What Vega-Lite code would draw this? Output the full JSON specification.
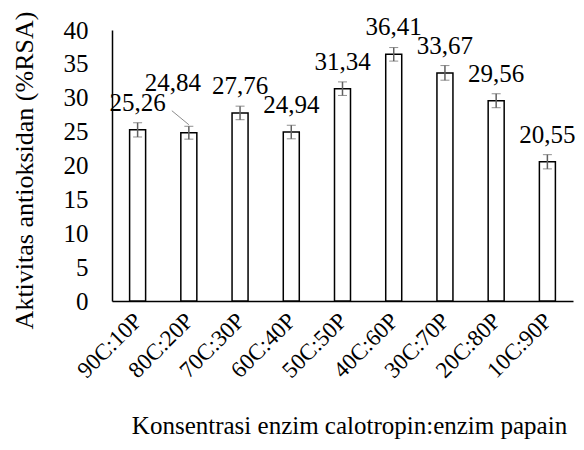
{
  "$schema": "https://vega.github.io/schema/vega-lite/v6.json",
  "width": 461,
  "height": 271,
  "autosize": {"type": "none"},
  "padding": {"left": 112, "top": 30, "right": 11, "bottom": 149},
  "background": "white",
  "config": {
    "font": "Liberation Serif",
    "view": {"stroke": null},
    "locale": {"number": {"decimal": ",", "thousands": ".", "grouping": [3], "currency": ["", ""]}},
    "axis": {"labelColor": "black", "titleColor": "black", "domainColor": "black", "domainWidth": 1.5, "ticks": false, "grid": false, "titleFontWeight": "normal", "labelFont": "Liberation Serif", "titleFont": "Liberation Serif"}
  },
  "data": {
    "values": [
      {"cat": "90C:10P", "value": 25.26, "err": 1.05},
      {"cat": "80C:20P", "value": 24.84, "err": 0.95},
      {"cat": "70C:30P", "value": 27.76, "err": 1.0},
      {"cat": "60C:40P", "value": 24.94, "err": 1.0},
      {"cat": "50C:50P", "value": 31.34, "err": 1.0},
      {"cat": "40C:60P", "value": 36.41, "err": 1.0},
      {"cat": "30C:70P", "value": 33.67, "err": 1.08},
      {"cat": "20C:80P", "value": 29.56, "err": 1.03},
      {"cat": "10C:90P", "value": 20.55, "err": 1.05}
    ]
  },
  "encoding": {
    "x": {
      "field": "cat", "type": "nominal", "sort": null,
      "scale": {"paddingInner": 0.6875, "paddingOuter": 0.34375},
      "axis": {
        "title": "Konsentrasi enzim calotropin:enzim papain",
        "labelAngle": -45, "labelAlign": "right", "labelBaseline": "top",
        "labelFontSize": 23, "labelPadding": 8, "labelOffset": -7,
        "titleFontSize": 25, "titleX": 237, "titleY": 132, "titleAlign": "center", "titleBaseline": "alphabetic"
      }
    },
    "y": {
      "field": "value", "type": "quantitative",
      "scale": {"domain": [0, 40], "nice": false},
      "title": "Aktivitas antioksidan (%RSA)",
      "axis": {
        "values": [0, 5, 10, 15, 20, 25, 30, 35, 40],
        "format": "d",
        "labelOverlap": false,
        "labelFontSize": 25, "labelPadding": 24,
        "titleFontSize": 26, "titleX": -80, "titleY": 140, "titleAlign": "center", "titleBaseline": "alphabetic", "titleAngle": -90
      }
    }
  },
  "layer": [
    {
      "mark": {"type": "bar", "fill": "white", "stroke": "black", "strokeWidth": 1.5}
    },
    {
      "mark": {"type": "errorbar", "ticks": {"size": 9, "color": "#606060", "strokeWidth": 1.5}, "rule": {"color": "#606060", "strokeWidth": 1.5}},
      "encoding": {
        "yError": {"field": "err"}
      }
    },
    {
      "transform": [{"filter": "datum.cat !== '80C:20P'"}],
      "mark": {"type": "text", "font": "Liberation Serif", "fontSize": 25, "baseline": "alphabetic", "dy": -19, "color": "black"},
      "encoding": {
        "text": {"field": "value", "type": "quantitative", "format": ".2f"}
      }
    },
    {
      "transform": [{"filter": "datum.cat === '80C:20P'"}],
      "mark": {"type": "text", "font": "Liberation Serif", "fontSize": 25, "baseline": "alphabetic", "dy": -42, "dx": -16, "color": "black"},
      "encoding": {
        "text": {"field": "value", "type": "quantitative", "format": ".2f"}
      }
    },
    {
      "transform": [{"filter": "datum.cat === '80C:20P'"}],
      "mark": {"type": "rule", "color": "#8c8c8c", "strokeWidth": 1, "yOffset": -8, "x2Offset": -17, "y2Offset": -22},
      "encoding": {
        "x2": {"field": "cat"},
        "y2": {"field": "value"}
      }
    }
  ]
}
